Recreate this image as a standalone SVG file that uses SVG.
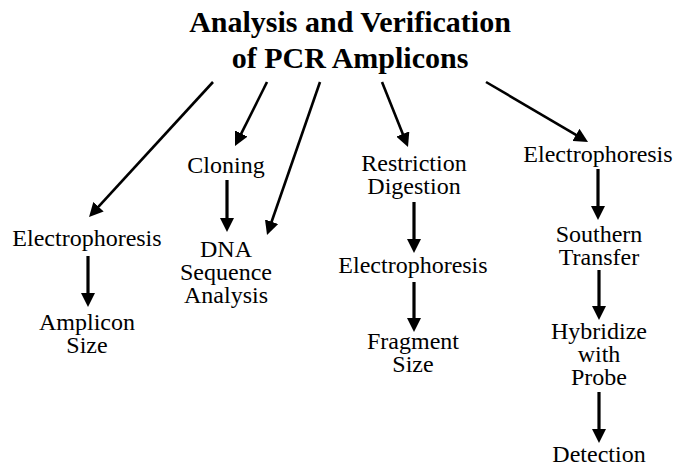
<svg xmlns="http://www.w3.org/2000/svg" width="679" height="468" viewBox="0 0 679 468">
  <style>
    text { font-family: "Liberation Serif", Tinos, "Times New Roman", Times, "Noto Serif", "DejaVu Serif", FreeSerif, serif; fill: #000; text-anchor: middle; }
    .title { font-weight: bold; font-size: 30px; }
    .lbl { font-size: 24px; }
    .diag { stroke: #000; stroke-width: 2.6; fill: none; marker-end: url(#head); }
    .vert { stroke: #000; stroke-width: 3.2; fill: none; marker-end: url(#head); }
  </style>
  <defs>
    <marker id="head" markerUnits="userSpaceOnUse" markerWidth="14" markerHeight="14" refX="4" refY="7" orient="auto">
      <path d="M0,0 L14,7 L0,14 z" fill="#000"/>
    </marker>
  </defs>
  <rect width="679" height="468" fill="#fff"/>

  <g id="title">
    <text class="title" x="350" y="32">Analysis and Verification<tspan x="350" dy="36">of PCR Amplicons</tspan></text>
  </g>

  <g id="connectors">
    <!-- branches from the title -->
    <line class="diag" x1="213" y1="82" x2="95.8" y2="209.6"/>
    <line class="diag" x1="267" y1="82" x2="239.5" y2="137.1"/>
    <line class="diag" x1="320" y1="82" x2="270.3" y2="225.5"/>
    <line class="diag" x1="382" y1="82" x2="404.3" y2="137.7"/>
    <line class="diag" x1="486" y1="82" x2="579.4" y2="136.9"/>
    <!-- vertical steps -->
    <line class="vert" x1="88" y1="256" x2="88" y2="297"/>
    <line class="vert" x1="227" y1="180" x2="227" y2="222"/>
    <line class="vert" x1="414" y1="202" x2="414" y2="243"/>
    <line class="vert" x1="414" y1="282" x2="414" y2="322"/>
    <line class="vert" x1="598" y1="169" x2="598" y2="210"/>
    <line class="vert" x1="599" y1="270" x2="599" y2="310"/>
    <line class="vert" x1="599" y1="392" x2="599" y2="433"/>
  </g>

  <g id="electrophoresis-1"><text class="lbl" x="87" y="246">Electrophoresis</text></g>
  <g id="amplicon-size">
    <text class="lbl" x="87" y="330">Amplicon<tspan x="87" dy="23">Size</tspan></text>
  </g>

  <g id="cloning"><text class="lbl" x="226" y="173">Cloning</text></g>
  <g id="dna-sequence">
    <text class="lbl" x="226" y="257">DNA<tspan x="226" dy="23">Sequence</tspan><tspan x="226" dy="23">Analysis</tspan></text>
  </g>

  <g id="restriction">
    <text class="lbl" x="414" y="171">Restriction<tspan x="414" dy="23">Digestion</tspan></text>
  </g>
  <g id="electrophoresis-2"><text class="lbl" x="413" y="273">Electrophoresis</text></g>
  <g id="fragment-size">
    <text class="lbl" x="413" y="349">Fragment<tspan x="413" dy="23">Size</tspan></text>
  </g>

  <g id="electrophoresis-3"><text class="lbl" x="598" y="162">Electrophoresis</text></g>
  <g id="southern">
    <text class="lbl" x="599" y="242">Southern<tspan x="599" dy="23">Transfer</tspan></text>
  </g>
  <g id="hybridize">
    <text class="lbl" x="599" y="339">Hybridize<tspan x="599" dy="23">with</tspan><tspan x="599" dy="23">Probe</tspan></text>
  </g>
  <g id="detection"><text class="lbl" x="599" y="462">Detection</text></g>
</svg>
